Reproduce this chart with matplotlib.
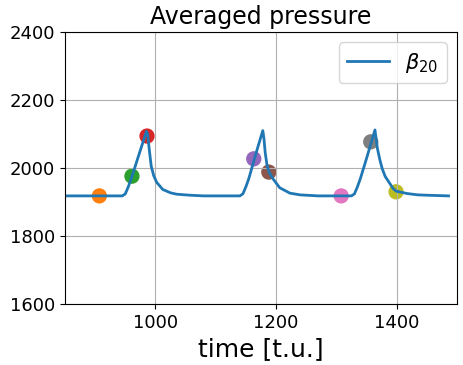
import matplotlib
matplotlib.use('Agg')
import matplotlib.pyplot as plt

# averaged pressure trace
time = [850, 945, 950, 955, 961, 970, 980, 985, 987, 990, 993, 997, 1002, 1012, 1025, 1035, 1057, 1080,
        1140, 1145, 1150, 1155, 1163, 1170, 1178, 1180, 1182, 1185, 1189, 1195, 1206, 1223, 1240, 1270,
        1325, 1330, 1335, 1340, 1350, 1357, 1364, 1366, 1368, 1372, 1376, 1381, 1394, 1399, 1417, 1435, 1450, 1486]
pressure = [1918, 1918, 1924, 1945, 1975, 2025, 2080, 2108, 2100, 2050, 2005, 1978, 1958, 1937, 1927, 1923, 1920, 1918,
            1918, 1924, 1945, 1970, 2020, 2063, 2110, 2085, 2045, 2008, 1986, 1968, 1942, 1926, 1921, 1918,
            1918, 1924, 1945, 1970, 2028, 2070, 2112, 2085, 2058, 2025, 1998, 1975, 1940, 1932, 1925, 1921, 1920, 1918]

# sampled points
pt_time = [907, 961, 986, 1163, 1188, 1308, 1357, 1399]
pt_pressure = [1918, 1976, 2094, 2027, 1988, 1918, 2077, 1930]
pt_colors = ['C1', 'C2', 'C3', 'C4', 'C5', 'C6', 'C7', 'C8']

fig = plt.figure(figsize=(4.63, 3.65), dpi=100)
ax = fig.add_axes([0.1404, 0.1671, 0.9870 - 0.1404, 0.9123 - 0.1671])

ax.plot(time, pressure, color='C0', lw=2, label=r'$\beta_{20}$')
ax.scatter(pt_time, pt_pressure, c=pt_colors, s=100)

ax.set_xlim(850, 1500)
ax.set_ylim(1600, 2400)
ax.set_xticks([1000, 1200, 1400])
ax.set_yticks([1600, 1800, 2000, 2200, 2400])
ax.tick_params(labelsize=13)
ax.grid(True)
ax.set_title('Averaged pressure', fontsize=17)
ax.set_xlabel('time [t.u.]', fontsize=18)
ax.legend(loc='upper right', fontsize=15)

fig.savefig('out.png', dpi=100)
